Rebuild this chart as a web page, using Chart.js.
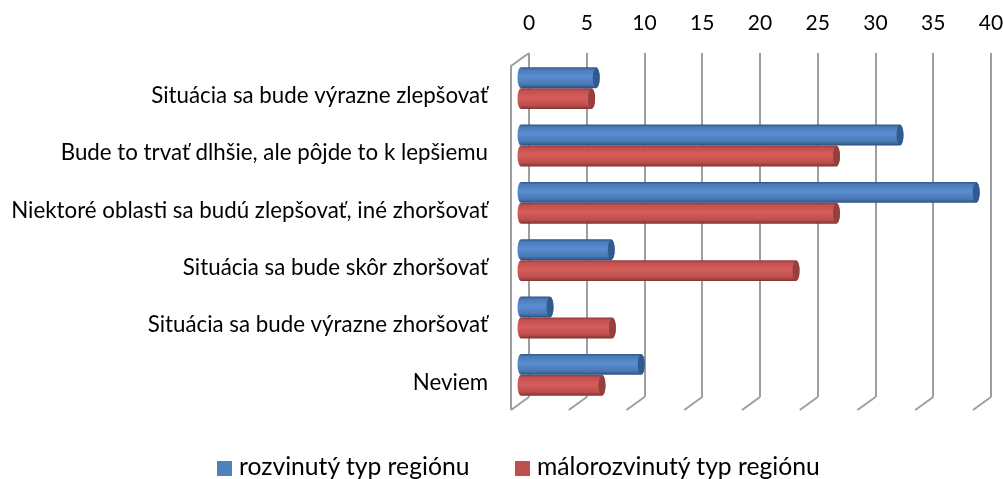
<!DOCTYPE html>
<html>
<head>
<meta charset="utf-8">
<style>
    html, body { margin: 0; padding: 0; background: #fff; }
    #wrap { position: relative; width: 1003px; height: 479px; overflow: hidden; }
    .legend-item { position: absolute; top: 451px; height: 30px; line-height: 30px; white-space: nowrap;
        font-family: Lato, 'Open Sans', sans-serif; font-size: 24.7px; color: #000; }
    .legend-item i { display: inline-block; width: 15px; height: 15px; margin-right: 7px; vertical-align: -1px; }
</style>
<script src="https://cdn.jsdelivr.net/npm/chart.js@4"></script>
</head>
<body>
<div id="wrap"><canvas id="chart"></canvas></div>
<script>
const categories = [
    'Situácia sa bude výrazne zlepšovať',
    'Bude to trvať dlhšie, ale pôjde to k lepšiemu',
    'Niektoré oblasti sa budú zlepšovať, iné zhoršovať',
    'Situácia sa bude skôr zhoršovať',
    'Situácia sa bude výrazne zhoršovať',
    'Neviem'
];
const rozvinuty = [6.6, 32.9, 39.5, 7.9, 2.6, 10.5];
const malorozvinuty = [6.2, 27.4, 27.4, 23.9, 8.0, 7.1];

const seriesNames = ['rozvinutý typ regiónu', 'málorozvinutý typ regiónu'];
const seriesColors = ['#4f81bd', '#c0504d'];
const legendLeft = [217, 515];
const fontFamily = "Lato, 'Open Sans', sans-serif";
const gridColor = '#9e9e9e';

// posun prednej hrany "3D" podlahy a roviny stlpcov voci zadnej stene
const depth = { x: -18, y: 13 };
const barShift = { x: -9, y: 6.5 };
const capRadius = 3.5;

const palettes = [
    { stops: ['#2f5587', '#4a7ab8', '#5a8ed2', '#4a78b4', '#2c4f7e'], cap: '#315a8f' },
    { stops: ['#8e3a38', '#c2504e', '#d65e5b', '#bd4e4b', '#7f3332'], cap: '#93403e' }
];

// podlaha a lava stena
const wallPlugin = {
    id: 'wall',
    beforeDatasetsDraw(chart) {
        const { ctx, chartArea, scales } = chart;
        ctx.save();
        ctx.strokeStyle = gridColor;
        ctx.lineWidth = 2;
        scales.x.ticks.forEach((_, i) => {
            const x = scales.x.getPixelForTick(i);
            ctx.beginPath();
            ctx.moveTo(x, chartArea.bottom);
            ctx.lineTo(x + depth.x, chartArea.bottom + depth.y);
            ctx.stroke();
        });
        const left = scales.x.getPixelForValue(0);
        ctx.beginPath();
        ctx.moveTo(left, chartArea.top);
        ctx.lineTo(left + depth.x, chartArea.top + depth.y);
        ctx.lineTo(left + depth.x, chartArea.bottom + depth.y);
        ctx.stroke();
        ctx.restore();
    }
};

// valce namiesto plochych stlpcov, suradnice idu zo skaly kniznice
const cylinderPlugin = {
    id: 'cylinder',
    beforeDatasetDraw(chart, args) {
        const { ctx } = chart;
        const palette = palettes[args.index];
        args.meta.data.forEach(bar => {
            const x0 = bar.base + barShift.x;
            const x1 = bar.x + barShift.x;
            const top = bar.y + barShift.y - bar.height / 2;
            const h = bar.height;
            const mid = top + h / 2;
            const grad = ctx.createLinearGradient(0, top, 0, top + h);
            palette.stops.forEach((c, i) => grad.addColorStop([0, 0.12, 0.45, 0.82, 1][i], c));
            ctx.save();
            ctx.fillStyle = grad;
            ctx.beginPath();
            ctx.ellipse(x0, mid, capRadius, h / 2, 0, Math.PI / 2, Math.PI * 1.5);
            ctx.lineTo(x1, top);
            ctx.ellipse(x1, mid, capRadius, h / 2, 0, -Math.PI / 2, Math.PI / 2);
            ctx.closePath();
            ctx.fill();
            ctx.fillStyle = palette.cap;
            ctx.beginPath();
            ctx.ellipse(x1, mid, capRadius, h / 2 - 0.5, 0, 0, Math.PI * 2);
            ctx.fill();
            ctx.restore();
        });
        return false;
    }
};

new Chart(document.getElementById('chart').getContext('2d'), {
    type: 'bar',
    data: {
        labels: categories,
        datasets: [
            { label: seriesNames[0], data: rozvinuty, backgroundColor: seriesColors[0], barPercentage: 1, categoryPercentage: 0.73 },
            { label: seriesNames[1], data: malorozvinuty, backgroundColor: seriesColors[1], barPercentage: 1, categoryPercentage: 0.73 }
        ]
    },
    options: {
        indexAxis: 'y',
        responsive: true,
        maintainAspectRatio: false,
        animation: false,
        layout: { padding: { right: 12, bottom: 82 } },
        plugins: {
            tooltip: { enabled: false },
            legend: { display: false }
        },
        scales: {
            x: {
                position: 'top',
                min: 0,
                max: 40,
                afterFit(scale) {
                    scale.height = 53;
                    scale.paddingRight = 0;
                    scale.paddingLeft = 0;
                },
                ticks: { stepSize: 5, color: '#000', padding: 17, font: { family: fontFamily, size: 21 } },
                grid: { color: gridColor, lineWidth: 2, drawTicks: false },
                border: { display: false }
            },
            y: {
                afterFit(scale) {
                    scale.width = 529;
                    scale.paddingTop = 0;
                    scale.paddingBottom = 0;
                },
                ticks: {
                    color: '#000',
                    padding: 41,
                    labelOffset: 14,
                    autoSkip: false,
                    font: { family: fontFamily, size: 22.3 }
                },
                grid: { display: false, drawTicks: false },
                border: { display: false }
            }
        }
    },
    plugins: [wallPlugin, cylinderPlugin]
});

// legenda ako html, Chart.js nevie nastavit medzeru medzi stvorcekom a textom
seriesNames.forEach((name, i) => {
    const item = document.createElement('div');
    item.className = 'legend-item';
    item.style.left = legendLeft[i] + 'px';
    const box = document.createElement('i');
    box.style.background = seriesColors[i];
    item.append(box, name);
    document.getElementById('wrap').append(item);
});
</script>
</body>
</html>
